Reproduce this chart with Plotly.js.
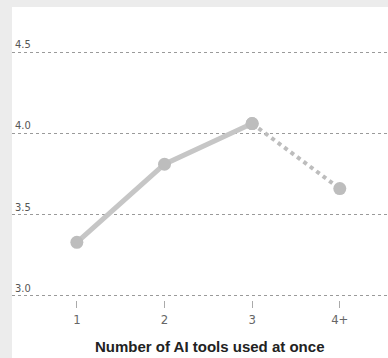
<!DOCTYPE html>
<html>
<head>
<meta charset="utf-8">
<script src="https://cdn.plot.ly/plotly-3.0.1.min.js"></script>
<style>html,body{margin:0;padding:0;background:#fff;}#chart{width:388px;height:358px;}</style>
</head>
<body>
<div id="chart"></div>
<script>
var categories = ['1', '2', '3', '4+'];
var values = [3.33, 3.81, 4.06, 3.66];
var yTicks = [3.0, 3.5, 4.0, 4.5];
var xTitle = 'Number of AI tools used at once';

var solidTrace = {
  x: categories.slice(0, 3), y: values.slice(0, 3),
  type: 'scatter', mode: 'lines+markers',
  line: {color: '#c6c6c6', width: 5},
  marker: {color: '#bdbdbd', size: 13},
  hoverinfo: 'none', showlegend: false
};
var dottedTrace = {
  x: categories.slice(2), y: values.slice(2),
  type: 'scatter', mode: 'lines+markers',
  line: {color: '#bdbdbd', width: 4, dash: 'dot'},
  marker: {color: '#bdbdbd', size: 13},
  hoverinfo: 'none', showlegend: false
};

var layout = {
  width: 388, height: 358,
  margin: {l: 12, r: 0, t: 7, b: 58},
  paper_bgcolor: '#ffffff', plot_bgcolor: '#ffffff',
  font: {family: 'Liberation Sans Narrow, DejaVu Sans Condensed, sans-serif', color: '#555'},
  xaxis: {
    type: 'category', range: [-0.74, 3.55],
    showgrid: false, zeroline: false, showline: false,
    ticks: 'outside', ticklen: 7, tickwidth: 1, tickcolor: '#aaaaaa',
    tickfont: {size: 13, color: '#666'}
  },
  yaxis: {
    range: [2.975, 4.777],
    tickvals: yTicks, ticktext: yTicks.map(function(v){return v.toFixed(1);}),
    ticklabelposition: 'inside top',
    showgrid: true, gridcolor: '#9a9a9a', griddash: 'dot', gridwidth: 1,
    zeroline: false, showline: false, ticks: '',
    tickfont: {size: 11, color: '#555'}
  },
  annotations: [{
    text: xTitle, xref: 'paper', yref: 'paper', x: 0.524, y: -0.160,
    xanchor: 'center', yanchor: 'middle', showarrow: false,
    font: {size: 15, color: '#222', family: 'Liberation Sans Narrow, sans-serif', weight: 'bold'}
  }],
  shapes: [
    {type: 'rect', xref: 'paper', yref: 'paper', x0: -12/376, x1: 0, y0: -1, y1: 1.2, fillcolor: '#ececec', line: {width: 0}, layer: 'above'},
    {type: 'rect', xref: 'paper', yref: 'paper', x0: -0.1, x1: 1.1, y0: 1, y1: 1.2, fillcolor: '#ececec', line: {width: 0}, layer: 'above'}
  ]
};

Plotly.newPlot('chart', [solidTrace, dottedTrace], layout, {displayModeBar: false, staticPlot: true});
</script>
</body>
</html>
